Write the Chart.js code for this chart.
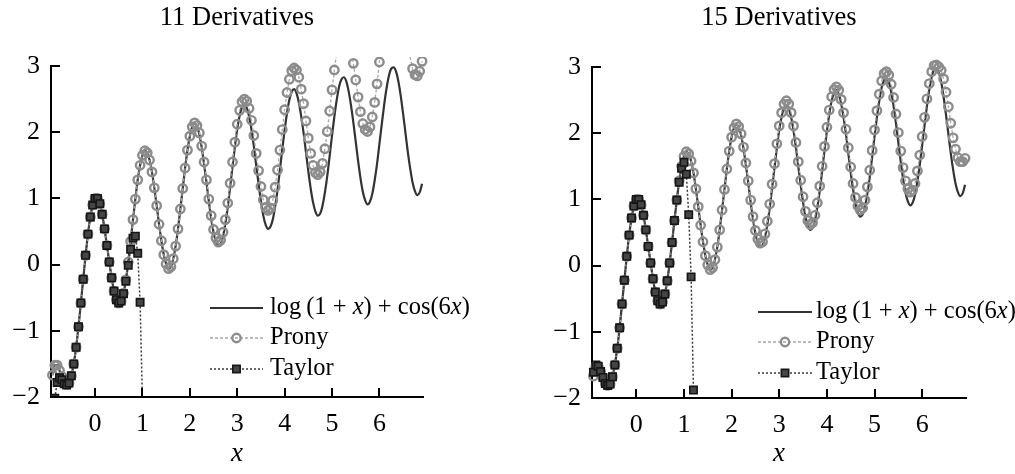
<!DOCTYPE html>
<html>
<head>
<meta charset="utf-8">
<title>Prony and Taylor approximations</title>
<script src="https://cdn.jsdelivr.net/npm/chart.js@4.4.1/dist/chart.umd.min.js"></script>
<style>
  html, body { margin: 0; padding: 0; background: #fff; }
  body { width: 1015px; height: 474px; position: relative; overflow: hidden; }
  canvas { position: absolute; top: 0; }
  #left { left: 0; }
  #right { left: 505px; }
</style>
</head>
<body>
<canvas id="left" width="505" height="474"></canvas>
<canvas id="right" width="510" height="474"></canvas>
<script>
// sample grid shared by every series
const xs = [
  -0.90, -0.85, -0.80, -0.75, -0.70, -0.65, -0.60, -0.55, -0.50, -0.45,
  -0.40, -0.35, -0.30, -0.25, -0.20, -0.15, -0.10, -0.05, 0.00, 0.05,
  0.10, 0.15, 0.20, 0.25, 0.30, 0.35, 0.40, 0.45, 0.50, 0.55,
  0.60, 0.65, 0.70, 0.75, 0.80, 0.85, 0.90, 0.95, 1.00, 1.05,
  1.10, 1.15, 1.20, 1.25, 1.30, 1.35, 1.40, 1.45, 1.50, 1.55,
  1.60, 1.65, 1.70, 1.75, 1.80, 1.85, 1.90, 1.95, 2.00, 2.05,
  2.10, 2.15, 2.20, 2.25, 2.30, 2.35, 2.40, 2.45, 2.50, 2.55,
  2.60, 2.65, 2.70, 2.75, 2.80, 2.85, 2.90, 2.95, 3.00, 3.05,
  3.10, 3.15, 3.20, 3.25, 3.30, 3.35, 3.40, 3.45, 3.50, 3.55,
  3.60, 3.65, 3.70, 3.75, 3.80, 3.85, 3.90, 3.95, 4.00, 4.05,
  4.10, 4.15, 4.20, 4.25, 4.30, 4.35, 4.40, 4.45, 4.50, 4.55,
  4.60, 4.65, 4.70, 4.75, 4.80, 4.85, 4.90, 4.95, 5.00, 5.05,
  5.10, 5.15, 5.20, 5.25, 5.30, 5.35, 5.40, 5.45, 5.50, 5.55,
  5.60, 5.65, 5.70, 5.75, 5.80, 5.85, 5.90, 5.95, 6.00, 6.05,
  6.10, 6.15, 6.20, 6.25, 6.30, 6.35, 6.40, 6.45, 6.50, 6.55,
  6.60, 6.65, 6.70, 6.75, 6.80, 6.85, 6.90
];

// exact function log(1 + x) + cos(6x)
const exactY = [
  -1.67, -1.52, -1.52, -1.60, -1.69, -1.78, -1.81, -1.79, -1.68, -1.50,
  -1.25, -0.94, -0.58, -0.22, 0.14, 0.46, 0.72, 0.90, 1.00, 1.00,
  0.92, 0.76, 0.54, 0.29, 0.04, -0.20, -0.40, -0.53, -0.58, -0.55,
  -0.43, -0.23, 0.04, 0.35, 0.68, 0.99, 1.28, 1.50, 1.65, 1.72,
  1.69, 1.58, 1.40, 1.16, 0.89, 0.61, 0.36, 0.15, 0.01, -0.06,
  -0.03, 0.09, 0.28, 0.54, 0.84, 1.15, 1.46, 1.73, 1.94, 2.08,
  2.13, 2.09, 1.97, 1.77, 1.52, 1.25, 0.96, 0.70, 0.49, 0.35,
  0.29, 0.31, 0.43, 0.62, 0.87, 1.17, 1.48, 1.78, 2.05, 2.25,
  2.38, 2.42, 2.37, 2.24, 2.04, 1.79, 1.50, 1.22, 0.96, 0.74,
  0.60, 0.54, 0.57, 0.68, 0.88, 1.13, 1.43, 1.74, 2.03, 2.29,
  2.49, 2.61, 2.65, 2.59, 2.45, 2.24, 1.99, 1.70, 1.41, 1.15,
  0.94, 0.80, 0.74, 0.77, 0.89, 1.09, 1.34, 1.64, 1.95, 2.24,
  2.49, 2.69, 2.80, 2.83, 2.77, 2.62, 2.41, 2.15, 1.86, 1.57,
  1.31, 1.10, 0.97, 0.91, 0.95, 1.07, 1.27, 1.52, 1.82, 2.12,
  2.41, 2.66, 2.85, 2.96, 2.98, 2.92, 2.77, 2.55, 2.28, 1.99,
  1.70, 1.45, 1.24, 1.11, 1.05, 1.09, 1.22
];

// Prony fit from 11 derivatives (drifts upward past x = 3)
const prony11 = [
  -1.67, -1.52, -1.52, -1.60, -1.69, -1.78, -1.81, -1.79, -1.68, -1.50,
  -1.25, -0.94, -0.58, -0.22, 0.14, 0.46, 0.72, 0.90, 1.00, 1.00,
  0.92, 0.76, 0.54, 0.29, 0.04, -0.20, -0.40, -0.53, -0.58, -0.55,
  -0.43, -0.23, 0.04, 0.35, 0.68, 0.99, 1.28, 1.50, 1.65, 1.72,
  1.69, 1.58, 1.40, 1.16, 0.89, 0.61, 0.36, 0.15, 0.01, -0.06,
  -0.03, 0.09, 0.28, 0.54, 0.84, 1.15, 1.46, 1.73, 1.94, 2.08,
  2.14, 2.10, 1.99, 1.79, 1.55, 1.28, 0.99, 0.74, 0.53, 0.40,
  0.34, 0.37, 0.49, 0.68, 0.93, 1.23, 1.55, 1.85, 2.12, 2.33,
  2.46, 2.50, 2.47, 2.36, 2.18, 1.95, 1.68, 1.42, 1.18, 0.98,
  0.86, 0.82, 0.85, 0.97, 1.17, 1.43, 1.73, 2.04, 2.34, 2.60,
  2.80, 2.93, 2.97, 2.94, 2.83, 2.65, 2.43, 2.17, 1.91, 1.68,
  1.50, 1.39, 1.36, 1.40, 1.53, 1.75, 2.01, 2.32, 2.64, 2.94,
  3.21, 3.42, 3.54, 3.58, 3.56, 3.44, 3.27, 3.04, 2.79, 2.53,
  2.31, 2.13, 2.04, 2.01, 2.08, 2.23, 2.45, 2.73, 3.06, 3.38,
  3.70, 3.98, 4.20, 4.33, 4.38, 4.36, 4.25, 4.07, 3.84, 3.59,
  3.34, 3.13, 2.96, 2.87, 2.85, 2.92, 3.07
];

// Prony fit from 15 derivatives
const prony15 = [
  -1.67, -1.52, -1.52, -1.60, -1.69, -1.78, -1.81, -1.79, -1.68, -1.50,
  -1.25, -0.94, -0.58, -0.22, 0.14, 0.46, 0.72, 0.90, 1.00, 1.00,
  0.92, 0.76, 0.54, 0.29, 0.04, -0.20, -0.40, -0.53, -0.58, -0.55,
  -0.43, -0.23, 0.04, 0.35, 0.68, 0.99, 1.28, 1.50, 1.65, 1.72,
  1.69, 1.58, 1.40, 1.16, 0.89, 0.61, 0.36, 0.15, 0.01, -0.06,
  -0.03, 0.09, 0.28, 0.54, 0.84, 1.15, 1.46, 1.73, 1.94, 2.08,
  2.14, 2.10, 1.99, 1.79, 1.55, 1.28, 0.99, 0.74, 0.53, 0.40,
  0.34, 0.36, 0.48, 0.67, 0.93, 1.23, 1.54, 1.84, 2.11, 2.31,
  2.44, 2.49, 2.44, 2.31, 2.11, 1.86, 1.57, 1.29, 1.04, 0.82,
  0.68, 0.62, 0.65, 0.76, 0.95, 1.20, 1.50, 1.80, 2.09, 2.35,
  2.55, 2.66, 2.70, 2.65, 2.51, 2.31, 2.06, 1.78, 1.49, 1.24,
  1.03, 0.90, 0.84, 0.87, 0.99, 1.19, 1.44, 1.74, 2.05, 2.34,
  2.59, 2.79, 2.90, 2.93, 2.88, 2.74, 2.54, 2.29, 2.01, 1.73,
  1.48, 1.28, 1.16, 1.11, 1.14, 1.24, 1.43, 1.67, 1.95, 2.24,
  2.52, 2.75, 2.93, 3.02, 3.03, 3.00, 2.95, 2.82, 2.62, 2.40,
  2.15, 1.93, 1.76, 1.63, 1.57, 1.57, 1.62
];

// Taylor polynomials, x from -0.9 up to where they blow up
const taylor11 = [
  -2.62, -2.02, -1.78, -1.71, -1.74, -1.80, -1.82, -1.79, -1.68, -1.50,
  -1.25, -0.94, -0.58, -0.22, 0.14, 0.46, 0.72, 0.90, 1.00, 1.00,
  0.92, 0.76, 0.54, 0.29, 0.04, -0.20, -0.40, -0.53, -0.58, -0.55,
  -0.44, -0.25, -0.01, 0.23, 0.40, 0.43, 0.17, -0.57, -2.06
];
const taylor15 = [
  -1.61, -1.50, -1.52, -1.60, -1.69, -1.78, -1.81, -1.79, -1.68, -1.50,
  -1.25, -0.94, -0.58, -0.22, 0.14, 0.46, 0.72, 0.90, 1.00, 1.00,
  0.92, 0.76, 0.54, 0.29, 0.04, -0.20, -0.40, -0.53, -0.58, -0.55,
  -0.43, -0.23, 0.04, 0.35, 0.68, 0.99, 1.26, 1.47, 1.56, 1.38,
  0.77, -0.17, -1.88
];

const xTicks = [0, 1, 2, 3, 4, 5, 6];
const yTicks = [-2, -1, 0, 1, 2, 3];

const SERIF = "'Liberation Serif', 'DejaVu Serif', serif";

const curveStyle = { color: '#333333', width: 2.2, dash: [] };
const pronyStyle = { color: '#a8a8a8', width: 1.3, dash: [3, 2], marker: 'circle', markerColor: '#8c8c8c', radius: 4.2 };
const taylorStyle = { color: '#3a3a3a', width: 1.5, dash: [2, 2], marker: 'rect', markerColor: '#151515', radius: 5.2 };

const legendRows = [
  { style: curveStyle, parts: [['log\u2009(1 + ', false], ['x', true], [') + cos(6', false], ['x', true], [')', false]] },
  { style: pronyStyle, parts: [['Prony', false]] },
  { style: taylorStyle, parts: [['Taylor', false]] }
];

function toPoints(xv, yv) {
  return yv.map((y, i) => ({ x: xv[i], y: y }));
}

function minusLabel(v) {
  return v < 0 ? '\u2212' + Math.abs(v) : String(v);
}

const axisTicks = {
  id: 'axisTicks',
  afterDraw(chart) {
    const { ctx, chartArea: a, scales: { x, y } } = chart;
    ctx.save();
    ctx.strokeStyle = '#000';
    ctx.lineWidth = 2;
    ctx.beginPath();
    xTicks.forEach(v => {
      const px = Math.round(x.getPixelForValue(v));
      ctx.moveTo(px, a.bottom);
      ctx.lineTo(px, a.bottom - 9);
    });
    yTicks.forEach(v => {
      const py = Math.round(y.getPixelForValue(v));
      ctx.moveTo(a.left, py);
      ctx.lineTo(a.left + 9, py);
    });
    ctx.stroke();
    ctx.restore();
  }
};

function drawMarker(ctx, s, x, y) {
  if (s.marker === 'circle') {
    ctx.beginPath();
    ctx.arc(x, y, s.radius, 0, Math.PI * 2);
    ctx.lineWidth = 2.4;
    ctx.strokeStyle = s.markerColor;
    ctx.stroke();
  } else if (s.marker === 'rect') {
    const h = s.radius * Math.SQRT1_2;
    ctx.fillStyle = '#454545';
    ctx.fillRect(x - h, y - h, 2 * h, 2 * h);
    ctx.lineWidth = 1.6;
    ctx.strokeStyle = s.markerColor;
    ctx.strokeRect(x - h, y - h, 2 * h, 2 * h);
  }
}

function panelDecor(cfg) {
  return {
    id: 'panelDecor',
    afterDraw(chart) {
      const { ctx, chartArea: a } = chart;
      ctx.save();
      // panel title
      ctx.fillStyle = '#000';
      ctx.textAlign = 'center';
      ctx.textBaseline = 'middle';
      ctx.font = '26.5px ' + SERIF;
      ctx.fillText(cfg.title, (a.left + a.right) / 2, 18);

      // legend
      ctx.textAlign = 'left';
      legendRows.forEach((row, i) => {
        const y = cfg.legend.rows[i];
        const s = row.style;
        ctx.strokeStyle = s.color;
        ctx.lineWidth = s.width;
        ctx.setLineDash(s.dash);
        ctx.beginPath();
        ctx.moveTo(cfg.legend.x0, y);
        ctx.lineTo(cfg.legend.x1, y);
        ctx.stroke();
        ctx.setLineDash([]);
        if (s.marker) drawMarker(ctx, s, (cfg.legend.x0 + cfg.legend.x1) / 2, y);

        let tx = cfg.legend.textX;
        ctx.fillStyle = '#000';
        row.parts.forEach(([text, italic]) => {
          ctx.font = (italic ? 'italic ' : '') + '24.5px ' + SERIF;
          ctx.fillText(text, tx, y);
          tx += ctx.measureText(text).width;
        });
      });
      ctx.restore();
    }
  };
}

function buildPanel(cfg) {
  const tickFont = { family: SERIF, size: 26 };
  return new Chart(document.getElementById(cfg.canvas), {
    type: 'line',
    data: {
      datasets: [
        {
          label: 'Taylor',
          data: toPoints(xs, cfg.taylor),
          order: 0,
          borderColor: taylorStyle.color,
          borderWidth: taylorStyle.width,
          borderDash: taylorStyle.dash,
          pointStyle: taylorStyle.marker,
          pointRadius: taylorStyle.radius,
          pointBorderWidth: 1.6,
          pointBorderColor: taylorStyle.markerColor,
          pointBackgroundColor: '#454545',
          clip: { left: 6, right: 6, top: 9, bottom: 0 }
        },
        {
          label: 'Prony',
          data: toPoints(xs, cfg.prony),
          order: 1,
          borderColor: pronyStyle.color,
          borderWidth: pronyStyle.width,
          borderDash: pronyStyle.dash,
          pointStyle: pronyStyle.marker,
          pointRadius: pronyStyle.radius,
          pointBorderWidth: 2.4,
          pointBorderColor: pronyStyle.markerColor,
          pointBackgroundColor: 'rgba(0,0,0,0)',
          clip: { left: 6, right: 6, top: 9, bottom: 0 }
        },
        {
          label: 'log(1 + x) + cos(6x)',
          data: toPoints(xs, exactY),
          order: 2,
          borderColor: curveStyle.color,
          borderWidth: curveStyle.width,
          pointRadius: 0,
          cubicInterpolationMode: 'monotone'
        }
      ]
    },
    options: {
      responsive: false,
      maintainAspectRatio: false,
      devicePixelRatio: 1,
      animation: false,
      events: [],
      layout: { padding: { top: cfg.padTop, right: cfg.padRight, bottom: 0, left: 0 } },
      plugins: { legend: { display: false }, tooltip: { enabled: false }, title: { display: false } },
      scales: {
        x: {
          type: 'linear',
          min: -0.93,
          max: 6.92,
          afterBuildTicks: s => { s.ticks = xTicks.map(v => ({ value: v })); },
          afterFit: s => { s.height = cfg.xAxisHeight; },
          grid: { display: false, drawTicks: false },
          border: { display: true, color: '#000', width: 2 },
          ticks: { font: tickFont, color: '#000', padding: 12, maxRotation: 0, autoSkip: false },
          title: {
            display: true,
            text: 'x',
            color: '#000',
            font: { family: SERIF, size: 27, style: 'italic', lineHeight: 1 },
            padding: { top: 0, bottom: 7 }
          }
        },
        y: {
          type: 'linear',
          min: -2,
          max: 3,
          afterBuildTicks: s => { s.ticks = yTicks.map(v => ({ value: v })); },
          afterFit: s => { s.width = cfg.yAxisWidth; },
          grid: { display: false, drawTicks: false },
          border: { display: true, color: '#000', width: 2 },
          ticks: { font: tickFont, color: '#000', padding: 11, callback: minusLabel }
        }
      }
    },
    plugins: [axisTicks, panelDecor(cfg)]
  });
}

buildPanel({
  canvas: 'left',
  title: '11 Derivatives',
  prony: prony11,
  taylor: taylor11,
  yAxisWidth: 51,
  padRight: 82,
  padTop: 66,
  xAxisHeight: 77,
  legend: { x0: 210, x1: 263, textX: 270, rows: [308, 338, 369] }
});

buildPanel({
  canvas: 'right',
  title: '15 Derivatives',
  prony: prony15,
  taylor: taylor15,
  yAxisWidth: 87,
  padRight: 49,
  padTop: 67,
  xAxisHeight: 76,
  legend: { x0: 253, x1: 307, textX: 311, rows: [312, 342, 373] }
});
</script>
</body>
</html>
